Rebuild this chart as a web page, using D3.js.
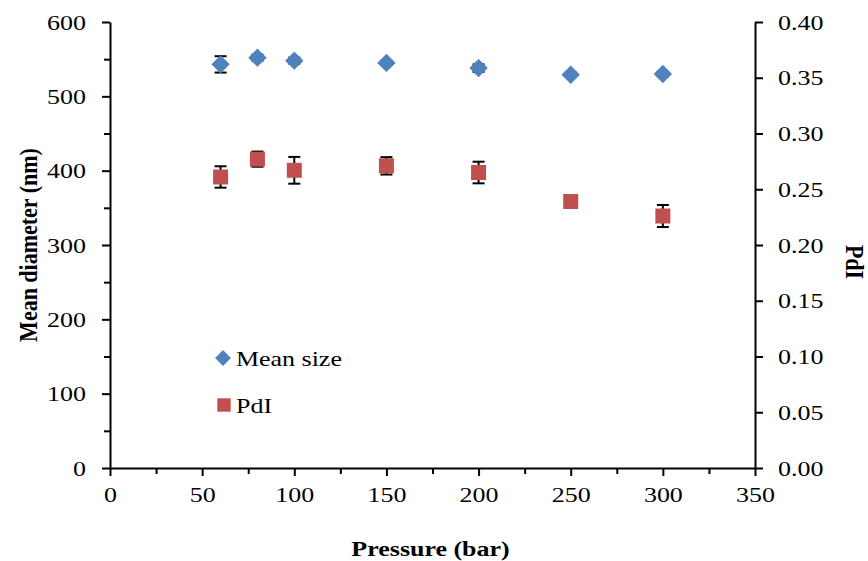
<!DOCTYPE html>
<html>
<head>
<meta charset="utf-8">
<script src="https://cdn.jsdelivr.net/npm/d3@7"></script>
<style>
  body { margin: 0; background: #fff; }
  text { font-family: "Liberation Serif", "Times New Roman", serif; fill: #000; }
</style>
</head>
<body>
<div id="chart"></div>
<script>
// pressure (bar)
var pressure = [60, 80, 100, 150, 200, 250, 300];
// mean size (nm), left axis
var meanSize = [543, 552, 548, 545, 538, 529, 530];
var meanSizeErr = [11, 4, 4, 3, 5, 3, 3];
// PdI, right axis
var pdi = [0.261, 0.277, 0.267, 0.271, 0.265, 0.239, 0.226];
var pdiErr = [0.0096, 0.0068, 0.012, 0.0078, 0.0097, 0.003, 0.0099];

var xTicks = [0, 50, 100, 150, 200, 250, 300, 350];
var yTicks = [0, 100, 200, 300, 400, 500, 600];
var y2Ticks = [0, 0.05, 0.1, 0.15, 0.2, 0.25, 0.3, 0.35, 0.4];

var width = 868, height = 561,
    plotLeft = 110, plotRight = 755, plotTop = 22, plotBottom = 468;

var blue = "#4F81BD", red = "#C0504D";
var stretchX = 1.18; // the original chart was widened, text included

var svg = d3.select("#chart").append("svg")
    .attr("width", width)
    .attr("height", height);

var x = d3.scaleLinear().domain([0, 350]).range([plotLeft, plotRight]),
    y = d3.scaleLinear().domain([0, 600]).range([plotBottom, plotTop]),
    y2 = d3.scaleLinear().domain([0, 0.4]).range([plotBottom, plotTop]);

// widen horizontal texts about their anchor point
function stretch(sel) {
    sel.each(function () {
        var t = d3.select(this),
            tx = +t.attr("x") || 0,
            ty = +t.attr("y") || 0;
        t.attr("x", 0).attr("y", 0)
            .attr("transform", `translate(${tx},${ty}) scale(${stretchX},1)`);
    });
}

function styleAxis(g) {
    g.select(".domain").attr("stroke", "#000").attr("stroke-width", 2);
    g.selectAll(".tick line").attr("stroke", "#000").attr("stroke-width", 2);
    g.selectAll(".tick text").style("font-size", "22px").call(stretch);
}

// minor ticks
svg.append("g")
    .attr("transform", `translate(0,${plotBottom})`)
    .call(d3.axisBottom(x).tickValues(d3.range(25, 350, 50)).tickSize(6).tickFormat(""))
    .call(g => g.select(".domain").remove())
    .selectAll("line").attr("stroke", "#000").attr("stroke-width", 2);

svg.append("g")
    .attr("transform", `translate(${plotLeft},0)`)
    .call(d3.axisLeft(y).tickValues(d3.range(50, 600, 100)).tickSize(6).tickFormat(""))
    .call(g => g.select(".domain").remove())
    .selectAll("line").attr("stroke", "#000").attr("stroke-width", 2);

// major axes
svg.append("g")
    .attr("transform", `translate(0,${plotBottom})`)
    .call(d3.axisBottom(x).tickValues(xTicks).tickSize(8).tickSizeOuter(0).tickPadding(10))
    .call(styleAxis);

svg.append("g")
    .attr("transform", `translate(${plotLeft},0)`)
    .call(d3.axisLeft(y).tickValues(yTicks).tickSize(8).tickSizeOuter(0).tickPadding(16))
    .call(styleAxis);

svg.append("g")
    .attr("transform", `translate(${plotRight},0)`)
    .call(d3.axisRight(y2).tickValues(y2Ticks).tickSize(8).tickSizeOuter(0).tickPadding(15)
        .tickFormat(d3.format(".2f")))
    .call(styleAxis);

// axis titles
svg.append("text")
    .attr("x", (plotLeft + plotRight) / 2 - 2)
    .attr("y", 556)
    .attr("text-anchor", "middle")
    .style("font-size", "22px")
    .style("font-weight", "bold")
    .text("Pressure (bar)")
    .call(stretch);

svg.append("text")
    .attr("transform", `translate(37,${(plotTop + plotBottom) / 2}) rotate(-90) scale(1,${stretchX})`)
    .attr("text-anchor", "middle")
    .style("font-size", "22px")
    .style("font-weight", "bold")
    .text("Mean diameter (nm)");

svg.append("text")
    .attr("transform", `translate(846,262) rotate(90) scale(1,${stretchX})`)
    .attr("text-anchor", "middle")
    .style("font-size", "22px")
    .style("font-weight", "bold")
    .text("PdI");

// error bars, drawn under the markers
var cap = 6;
function errorBars(vals, errs, scale) {
    var g = svg.append("g").attr("stroke", "#000").attr("stroke-width", 2);
    pressure.forEach(function (p, i) {
        var cx = x(p), hi = scale(vals[i] + errs[i]), lo = scale(vals[i] - errs[i]);
        g.append("line").attr("x1", cx).attr("x2", cx).attr("y1", hi).attr("y2", lo);
        g.append("line").attr("x1", cx - cap).attr("x2", cx + cap).attr("y1", hi).attr("y2", hi);
        g.append("line").attr("x1", cx - cap).attr("x2", cx + cap).attr("y1", lo).attr("y2", lo);
    });
}
errorBars(meanSize, meanSizeErr, y);
errorBars(pdi, pdiErr, y2);

// markers
var diamond = d3.symbol().type(d3.symbolDiamond2).size(215),
    square = d3.symbol().type(d3.symbolSquare).size(225);

svg.append("g").selectAll("path")
    .data(pressure)
    .enter().append("path")
    .attr("d", diamond)
    .attr("transform", (d, i) => `translate(${x(d)},${y(meanSize[i])})`)
    .attr("fill", blue);

svg.append("g").selectAll("path")
    .data(pressure)
    .enter().append("path")
    .attr("d", square)
    .attr("transform", (d, i) => `translate(${x(d)},${y2(pdi[i])})`)
    .attr("fill", red);

// legend
var legend = svg.append("g");
legend.append("path")
    .attr("d", d3.symbol().type(d3.symbolDiamond2).size(160))
    .attr("transform", "translate(223,358)")
    .attr("fill", blue);
legend.append("text")
    .attr("x", 236).attr("y", 366)
    .style("font-size", "22px")
    .text("Mean size")
    .call(stretch);
legend.append("path")
    .attr("d", d3.symbol().type(d3.symbolSquare).size(180))
    .attr("transform", "translate(224,405)")
    .attr("fill", red);
legend.append("text")
    .attr("x", 236).attr("y", 413)
    .style("font-size", "22px")
    .text("PdI")
    .call(stretch);
</script>
</body>
</html>
